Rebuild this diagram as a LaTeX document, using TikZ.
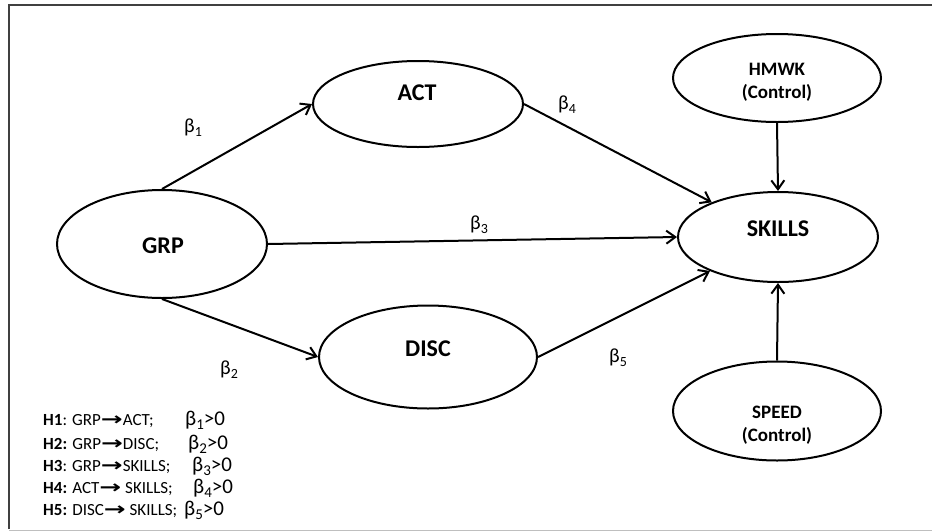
\documentclass[tikz,border=0pt]{standalone}
\usepackage{fontspec}
\usepackage{graphicx}
\setmainfont{Carlito}
\newfontfamily\arrowfont{DejaVu Sans}
\usetikzlibrary{arrows.meta,shapes.geometric}
\newcommand{\bsub}[1]{β\raisebox{-0.22em}{\fontsize{14}{14}\selectfont #1}}
\newcommand{\hsub}[1]{β\raisebox{-0.2em}{\fontsize{15}{15}\selectfont #1}}
\newcommand{\harr}{{\arrowfont\bfseries\fontsize{18}{18}\selectfont\scalebox{1.45}[1]{→}}}
\begin{document}
\begin{tikzpicture}[x=1pt,y=-1pt,
  ell/.style={draw, ellipse, line width=2pt, inner sep=0pt},
  conn/.style={line width=2pt, -{Straight Barb[length=9pt,width=13pt,line width=2pt]}},
  lbl/.style={font=\fontsize{24}{28}\selectfont\bfseries, inner sep=0pt, anchor=base},
  ctl/.style={font=\fontsize{19}{23}\selectfont\bfseries, inner sep=0pt, anchor=base},
  betalbl/.style={font=\fontsize{20}{23}\selectfont, inner sep=0pt, anchor=base west},
  hyp/.style={font=\fontsize{17}{20}\selectfont, inner sep=0pt, anchor=base west},
  hb/.style={font=\fontsize{21}{24}\selectfont, inner sep=0pt, anchor=base west}]
\useasboundingbox (0,0) rectangle (932,531);
% frame
\draw[black!25, line width=1pt] (9,530) -- (932,530);
\draw[black!75, line width=2.5pt] (9,529) -- (9,5) -- (932,5);
% ellipses
\node[ell, minimum width=210pt, minimum height=108pt] (grp) at (162,244) {};
\node[ell, minimum width=210pt, minimum height=86pt] (act) at (418,104) {};
\node[ell, minimum width=218pt, minimum height=103pt] (disc) at (428,357) {};
\node[ell, minimum width=200pt, minimum height=90pt] (skills) at (778,237) {};
\node[ell, minimum width=208pt, minimum height=88pt] (hmwk) at (777,78) {};
\node[ell, minimum width=208pt, minimum height=99pt] (speed) at (777,411) {};
% texts
\node[lbl] (tgrp) at (163,253) {GRP};
\node[lbl] (tact) at (417,100) {ACT};
\node[lbl] (tdisc) at (428,356) {DISC};
\node[lbl] (tskills) at (778,236) {SKILLS};
\node[ctl] (thmwk) at (777,75) {HMWK};
\node[ctl] (thmwkc) at (777,98) {(Control)};
\node[ctl] (tspeed) at (777,418) {SPEED};
\node[ctl] (tspeedc) at (777,441) {(Control)};
% connectors
\draw[conn] (grp.north) -- (act.west);
\draw[conn] (grp.east) -- (skills.west);
\draw[conn] (grp.south) -- (disc.west);
\draw[conn] (act.east) -- (skills);
\draw[conn] (disc.east) -- (skills);
\draw[conn] (hmwk.south) -- (skills.north);
\draw[conn] (speed.north) -- (skills.south);
% beta labels
\node[betalbl] (b1) at (184,132) {\bsub{1}};
\node[betalbl] (b4) at (558,109) {\bsub{4}};
\node[betalbl] (b3) at (470,229) {\bsub{3}};
\node[betalbl] (b2) at (220,374) {\bsub{2}};
\node[betalbl] (b5) at (609,362) {\bsub{5}};
% legend
\node[hyp] (h1) at (43,425) {\textbf{H1}: GRP\harr ACT;};
\node[hb] (hb1) at (185,425) {\hsub{1}>0};
\node[hyp] (h2) at (43,449) {\textbf{H2:} GRP\harr DISC;};
\node[hb] (hb2) at (188,449) {\hsub{2}>0};
\node[hyp] (h3) at (43,471) {\textbf{H3}: GRP\harr SKILLS;};
\node[hb] (hb3) at (192,471) {\hsub{3}>0};
\node[hyp] (h4) at (43,493) {\textbf{H4:} ACT\harr\ SKILLS;};
\node[hb] (hb4) at (193,493) {\hsub{4}>0};
\node[hyp] (h5) at (43,515) {\textbf{H5:} DISC\harr\ SKILLS;};
\node[hb] (hb5) at (184,515) {\hsub{5}>0};
\end{tikzpicture}
\end{document}
